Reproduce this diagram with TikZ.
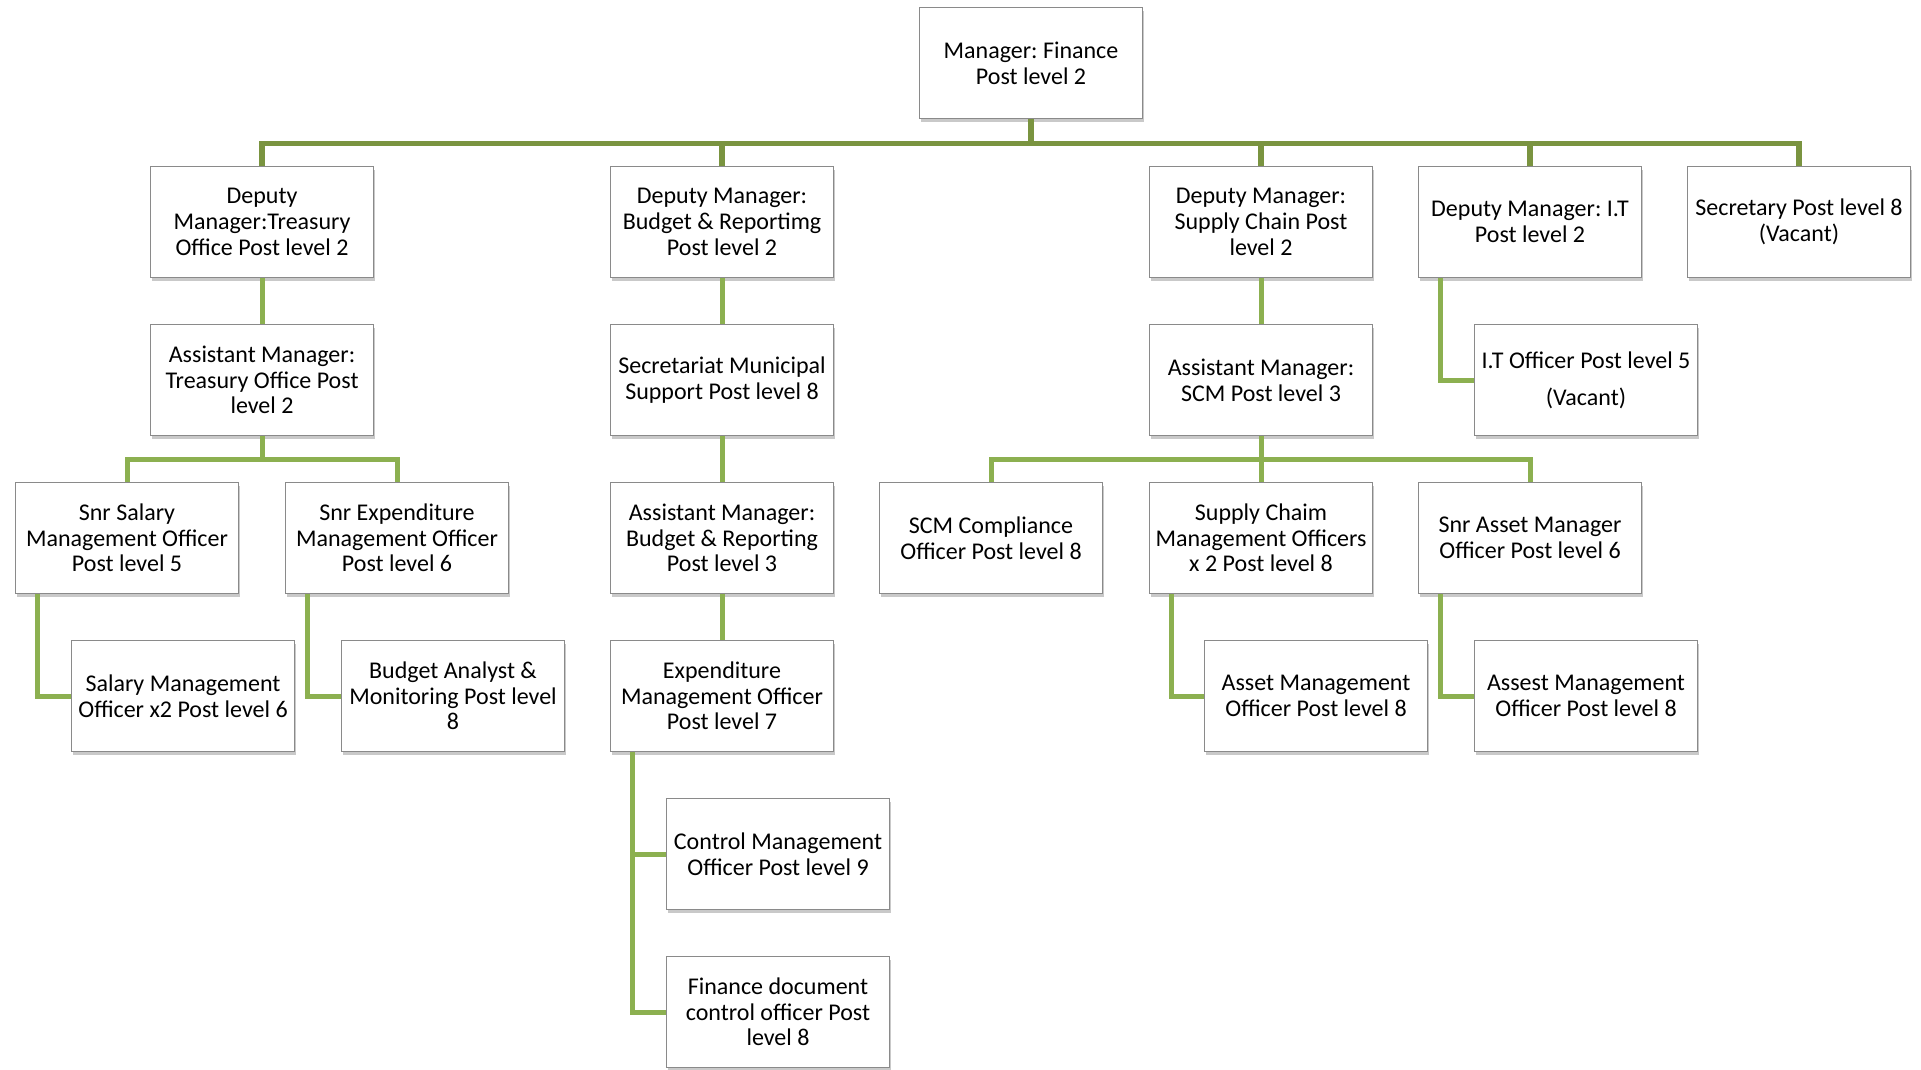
\documentclass[tikz,border=0pt]{standalone}
\usepackage{fontspec}
\setmainfont{Carlito}
\frenchspacing
\usetikzlibrary{shadows}

\definecolor{busgreen}{HTML}{7A9440}
\definecolor{stemgreen}{HTML}{8CB050}
\definecolor{boxgray}{HTML}{8A8A8A}

\tikzset{
  post/.style={draw=boxgray, line width=1.4pt, fill=white, minimum width=223pt,
    minimum height=111pt, inner sep=0pt, align=center,
    font=\fontsize{24}{25.7}\selectfont,
    drop shadow={shadow xshift=1.5pt, shadow yshift=-3.5pt, opacity=0.3, fill=black!70}},
  toplink/.style={draw=busgreen, line width=5.5pt},
  link/.style={draw=stemgreen, line width=5pt},
}

\begin{document}
\begin{tikzpicture}[x=1pt, y=-1pt]
\useasboundingbox (0,0) rectangle (1921,1070);

\node[post] (MF) at (1031,63) {Manager: Finance\\Post level 2};

\node[post] (DT)  at (262,222)  {Deputy\\Manager:Treasury\\Office Post level 2};
\node[post] (DB)  at (722,222)  {Deputy Manager:\\Budget \& Reportimg\\Post level 2};
\node[post] (DS)  at (1261,222) {Deputy Manager:\\Supply Chain Post\\level 2};
\node[post] (DI)  at (1530,222) {Deputy Manager: I.T\\Post level 2};
\node[post] (SEC) at (1799,222) {Secretary Post level 8\\(Vacant)};

\node[post] (AT)  at (262,380)  {Assistant Manager:\\Treasury Office Post\\level 2};
\node[post] (SM)  at (722,380)  {Secretariat Municipal\\Support Post level 8};
\node[post] (AS)  at (1261,380) {Assistant Manager:\\SCM Post level 3};
\node[post] (ITO) at (1586,380) {I.T Officer Post level 5\\[11pt](Vacant)};

\node[post] (SS)  at (127,538)  {Snr Salary\\Management Officer\\Post level 5};
\node[post] (SE)  at (397,538)  {Snr Expenditure\\Management Officer\\Post level 6};
\node[post] (AB)  at (722,538)  {Assistant Manager:\\Budget \& Reporting\\Post level 3};
\node[post] (SC)  at (991,538)  {SCM Compliance\\Officer Post level 8};
\node[post] (SCO) at (1261,538) {Supply Chaim\\Management Officers\\x 2 Post level 8};
\node[post] (SA)  at (1530,538) {Snr Asset Manager\\Officer Post level 6};

\node[post] (SMO) at (183,696)  {Salary Management\\Officer x2 Post level 6};
\node[post] (BA)  at (453,696)  {Budget Analyst \&\\Monitoring Post level\\8};
\node[post] (EM)  at (722,696)  {Expenditure\\Management Officer\\Post level 7};
\node[post] (AMO) at (1316,696) {Asset Management\\Officer Post level 8};
\node[post] (AAO) at (1586,696) {Assest Management\\Officer Post level 8};

\node[post] (CM)  at (778,854)  {Control Management\\Officer Post level 9};
\node[post] (FD)  at (778,1012) {Finance document\\control officer Post\\level 8};

% manager to deputies
\foreach \c in {DT,DB,DS,DI,SEC}
  \draw[toplink] (MF.south) -- ++(0,24.5) -| (\c.north);

% straight down
\draw[link] (DT) -- (AT);
\draw[link] (DB) -- (SM);
\draw[link] (SM) -- (AB);
\draw[link] (AB) -- (EM);
\draw[link] (DS) -- (AS);

% forks
\foreach \c in {SS,SE}
  \draw[link] (AT.south) -- ++(0,23.5) -| (\c.north);
\foreach \c in {SC,SCO,SA}
  \draw[link] (AS.south) -- ++(0,23.5) -| (\c.north);

% side branches
\draw[link] ([xshift=23pt]DI.south west) |- (ITO.west);
\draw[link] ([xshift=23pt]SS.south west) |- (SMO.west);
\draw[link] ([xshift=23pt]SE.south west) |- (BA.west);
\draw[link] ([xshift=23pt]EM.south west) |- (CM.west);
\draw[link] ([xshift=23pt]EM.south west) |- (FD.west);
\draw[link] ([xshift=23pt]SCO.south west) |- (AMO.west);
\draw[link] ([xshift=23pt]SA.south west) |- (AAO.west);
\end{tikzpicture}
\end{document}
